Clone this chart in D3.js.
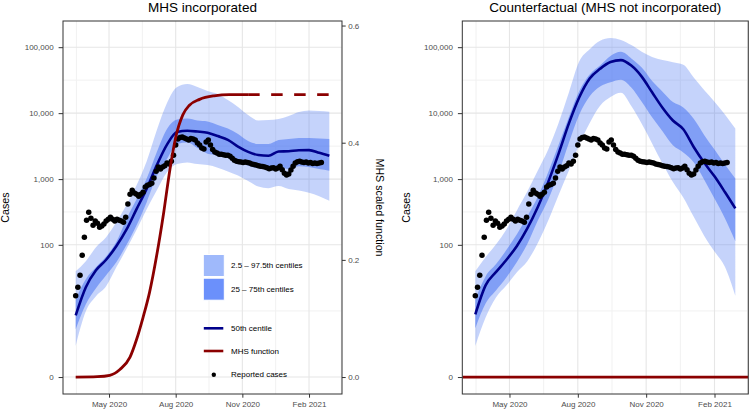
<!DOCTYPE html>
<html><head><meta charset="utf-8">
<script src="https://cdn.jsdelivr.net/npm/d3@7"></script>
<style>body{margin:0;background:#fff} svg{display:block;font-family:"Liberation Sans",Arial,Helvetica,sans-serif}</style>
</head><body><svg id="chart" width="750" height="410"></svg>
<script>
// ---------------- data ----------------
const bandDates = ["2020-03-16","2020-03-30","2020-04-13","2020-04-27","2020-05-11","2020-05-25","2020-06-08","2020-06-22","2020-07-06","2020-07-20","2020-08-03","2020-08-17","2020-08-31","2020-09-14","2020-09-28","2020-10-12","2020-10-26","2020-11-09","2020-11-23","2020-12-07","2020-12-21","2021-01-04","2021-01-18","2021-02-01","2021-02-15","2021-03-01"];

// MHS incorporated
const incMedian  = [7.6,22,40.5,59,95,170,350,714,1630,3340,5160,5400,5260,5040,4490,3930,3110,2590,2320,2260,2620,2650,2740,2750,2500,2250];
const incInnerLo = [4.3,11.7,21.2,34,54,99,199,447,1110,2010,3400,3580,2950,2430,2310,2120,1840,1600,1470,1490,1570,1420,1570,1520,1420,1340];
const incInnerHi = [14.1,29.4,45,66,110,246,496,1017,2570,5740,8000,8280,7720,7460,6600,5840,4820,3770,3400,3400,3910,4050,4190,4210,4120,4050];
const incOuterLo = [1.95,8.9,15.8,22.8,45,86,170,350,680,1275,1690,1790,1690,1630,1490,1300,1130,933,769,729,783,705,669,623,551,468];
const incOuterHi = [39,56,92,131,221,404,810,1870,5540,14200,24900,27600,24900,21700,19500,15800,12400,9350,7720,7860,8150,9050,10400,10950,10760,10500];

// Counterfactual (MHS not incorporated)
const cfMedian  = [7.9,23.7,38.2,59,96,178,374,892,2410,6990,17400,33500,47000,59600,63700,52600,35800,20700,12100,7740,5690,3070,1780,1100,636,359];
const cfInnerLo = [4.5,12.1,19.7,31.6,54.5,103,232,485,1220,3570,9580,18100,25400,29500,32200,24500,14900,8650,5310,3260,2540,1800,990,506,254,113];
const cfInnerHi = [14,32.8,50.5,84,145,272,535,1260,3290,8720,21700,38600,52700,73300,84900,67600,49000,30700,21200,14700,12200,8190,4670,2800,1670,1020];
const cfOuterLo = [1.95,7.05,15.2,23.6,37.8,56,106,233,571,1350,3370,7110,12990,17500,20300,12800,6880,3480,1720,900,524,267,138,79,46,16];
const cfOuterHi = [39,65,102,173,335,646,1340,2790,7010,20500,61100,93300,125000,138000,129000,108000,85400,71300,63700,59200,54100,34700,22400,14900,9550,5860];

// Reported cases (every 3rd day from start date)
const reportedStart = "2020-03-16";
const reportedStepDays = 3;
const reportedCases = [16,22,34,69,131,238,315,255,199,230,214,186,193,207,230,246,264,245,230,246,238,230,221,264,417,591,680,613,590,551,590,634,756,810,825,868,1035,1320,1520,1420,1520,1600,1750,1690,1870,2310,3280,4050,4270,4340,4190,4050,3910,4120,4050,3910,3520,3280,2950,2850,3640,3910,3280,2800,2570,2480,2390,2390,2350,2310,2310,2230,2080,1940,1870,1840,1810,1780,1810,1790,1750,1690,1660,1630,1600,1570,1550,1520,1490,1440,1470,1490,1420,1470,1570,1390,1230,1150,1190,1370,1570,1750,1840,1870,1810,1780,1810,1750,1780,1720,1750,1720,1750,1780];

// MHS scaled function
const mhsDates  = ["2020-03-16","2020-04-15","2020-05-02","2020-05-16","2020-05-30","2020-06-08","2020-06-17","2020-06-26","2020-07-06","2020-07-15","2020-07-24","2020-08-01","2020-08-11","2020-08-20","2020-09-03","2020-09-23","2020-10-14","2020-11-09"];
const mhsValues = [0,0.0007,0.003,0.013,0.034,0.064,0.102,0.145,0.209,0.277,0.354,0.409,0.448,0.464,0.474,0.480,0.482,0.482];
const mhsProjectedDates  = ["2020-11-09","2021-03-01"];
const mhsProjectedValues = [0.482,0.482];
const secAxisFactor = 8.88;   // secondary axis: log10(cases+1) = factor * MHS

// axes / labels
const yTickValues   = [0,100,1000,10000,100000];
const secTickValues = [0,0.2,0.4,0.6];
const xTickDates    = ["2020-05-01","2020-08-01","2020-11-01","2021-02-01"];
const xGridDates    = ["2020-02-01","2020-05-01","2020-08-01","2020-11-01","2021-02-01","2021-05-01"];
const panelTitles   = ["MHS incorporated","Counterfactual (MHS not incorporated)"];
const legendLabels  = ["2.5 \u2013 97.5th centiles","25 \u2013 75th centiles","50th centile","MHS function","Reported cases"];

// ---------------- drawing ----------------
const parse = d3.utcParse("%Y-%m-%d");
const svg = d3.select("#chart");
const tr = v => Math.log10(v + 1);
const yTop = 21, yBot = 394;

const C = {outer:"#3e6cf2", median:"#00008b", mhs:"#8b0000", grid:"#e6e6e6", gridMinor:"#f1f1f1",
           border:"#333333", tick:"#333333", tickText:"#4d4d4d", keyOuter:"#9fb9fb", keyInner:"#6b90fb"};

const allHi = incOuterHi.concat(cfOuterHi).map(tr);
const tMax = d3.max(allHi), tMin = 0;
const tPad = 0.05 * (tMax - tMin);
const yT = d3.scaleLinear().domain([tMin - tPad, tMax + tPad]).range([yBot, yTop]);

const bDates = bandDates.map(parse);
const start = parse(reportedStart);
const repData = reportedCases.map((v,i) => ({d: d3.utcDay.offset(start, i*reportedStepDays), v}));
const xExt = d3.extent(bDates);
const xPad = 0.05 * (xExt[1] - xExt[0]);
const xDomain = [new Date(+xExt[0] - xPad), new Date(+xExt[1] + xPad)];

const panels = [
  {x0:63, x1:342, title:panelTitles[0], med:incMedian, iLo:incInnerLo, iHi:incInnerHi, oLo:incOuterLo, oHi:incOuterHi, mhs:true, yTitleX:9},
  {x0:462.3, x1:748.3, title:panelTitles[1], med:cfMedian, iLo:cfInnerLo, iHi:cfInnerHi, oLo:cfOuterLo, oHi:cfOuterHi, mhs:false, yTitleX:409.5}
];

panels.forEach((p, pi) => {
  const x = d3.scaleUtc().domain(xDomain).range([p.x0, p.x1]);
  const g = svg.append("g");
  const clipId = "clip" + pi;
  svg.append("clipPath").attr("id", clipId).append("rect")
    .attr("x", p.x0).attr("y", yTop).attr("width", p.x1 - p.x0).attr("height", yBot - yTop);

  // grid
  const grid = g.append("g");
  const yMaj = yTickValues.map(tr);
  const yMin = d3.pairs(yMaj).map(([a,b]) => (a+b)/2);
  const xMaj = xGridDates.map(parse);
  const xMin = d3.pairs(xMaj).map(([a,b]) => new Date((+a + +b)/2));
  const inX = d => x(d) > p.x0 + 0.5 && x(d) < p.x1 - 0.5;
  grid.selectAll(".hmin").data(yMin).join("line").attr("x1", p.x0).attr("x2", p.x1)
    .attr("y1", d => yT(d)).attr("y2", d => yT(d)).attr("stroke", C.gridMinor).attr("stroke-width", 1);
  grid.selectAll(".vmin").data(xMin.filter(inX)).join("line").attr("y1", yTop).attr("y2", yBot)
    .attr("x1", d => x(d)).attr("x2", d => x(d)).attr("stroke", C.gridMinor).attr("stroke-width", 1);
  grid.selectAll(".hmaj").data(yMaj).join("line").attr("x1", p.x0).attr("x2", p.x1)
    .attr("y1", d => yT(d)).attr("y2", d => yT(d)).attr("stroke", C.grid).attr("stroke-width", 1.1);
  grid.selectAll(".vmaj").data(xMaj.filter(inX)).join("line").attr("y1", yTop).attr("y2", yBot)
    .attr("x1", d => x(d)).attr("x2", d => x(d)).attr("stroke", C.grid).attr("stroke-width", 1.1);

  const plot = g.append("g").attr("clip-path", `url(#${clipId})`);
  const bandRows = bDates.map((d,i) => ({d, med:p.med[i], iLo:p.iLo[i], iHi:p.iHi[i], oLo:p.oLo[i], oHi:p.oHi[i]}));
  const area = (lo, hi) => d3.area().x(r => x(r.d)).y0(r => yT(tr(r[lo]))).y1(r => yT(tr(r[hi]))).curve(d3.curveMonotoneX);
  plot.append("path").datum(bandRows).attr("d", area("oLo","oHi")).attr("fill", C.outer).attr("fill-opacity", 0.3);
  plot.append("path").datum(bandRows).attr("d", area("iLo","iHi")).attr("fill", C.outer).attr("fill-opacity", 0.5);
  plot.append("path").datum(bandRows)
    .attr("d", d3.line().x(r => x(r.d)).y(r => yT(tr(r.med))).curve(d3.curveMonotoneX))
    .attr("fill", "none").attr("stroke", C.median).attr("stroke-width", 2.6);

  plot.append("g").selectAll("circle").data(repData).join("circle")
    .attr("cx", r => x(r.d)).attr("cy", r => yT(tr(r.v))).attr("r", 2.75).attr("fill", "#000");

  const ySec = d3.scaleLinear().domain([0, 1]).range([yT(0), yT(secAxisFactor)]);
  if (p.mhs) {
    const mhsLine = d3.line().x(r => x(r.d)).y(r => ySec(r.v)).curve(d3.curveMonotoneX);
    plot.append("path").datum(mhsDates.map((d,i) => ({d:parse(d), v:mhsValues[i]})))
      .attr("d", mhsLine).attr("fill", "none").attr("stroke", C.mhs).attr("stroke-width", 2.8);
    plot.append("path").datum(mhsProjectedDates.map((d,i) => ({d:parse(d), v:mhsProjectedValues[i]})))
      .attr("d", mhsLine).attr("fill", "none").attr("stroke", C.mhs).attr("stroke-width", 2.8)
      .attr("stroke-dasharray", "11.5,11.5");
  } else {
    plot.append("line").attr("x1", p.x0).attr("x2", p.x1).attr("y1", ySec(0)).attr("y2", ySec(0))
      .attr("stroke", C.mhs).attr("stroke-width", 2.8);
  }

  // border
  g.append("rect").attr("x", p.x0).attr("y", yTop).attr("width", p.x1 - p.x0).attr("height", yBot - yTop)
    .attr("fill", "none").attr("stroke", C.border).attr("stroke-width", 1);

  const styleAxis = s => {
    s.select(".domain").remove();
    s.attr("font-family", null).attr("font-size", null);
    s.selectAll("line").attr("stroke", C.tick).attr("stroke-width", 1);
    s.selectAll("text").attr("fill", C.tickText).style("font-size", "8px");
  };
  g.append("g").attr("transform", `translate(0,${yBot})`)
    .call(d3.axisBottom(x).tickValues(xTickDates.map(parse)).tickFormat(d3.utcFormat("%b %Y")).tickSize(3.7).tickPadding(4))
    .call(styleAxis);
  g.append("g").attr("transform", `translate(${p.x0},0)`)
    .call(d3.axisLeft(yT).tickValues(yMaj).tickFormat(t => d3.format(",")(Math.round(Math.pow(10,t) - 1))).tickSize(4.4).tickPadding(5))
    .call(styleAxis);
  if (p.mhs) {
    g.append("g").attr("transform", `translate(${p.x1},0)`)
      .call(d3.axisRight(ySec).tickValues(secTickValues).tickFormat(d3.format(".1f")).tickSize(3.7).tickPadding(2.5))
      .call(styleAxis);
    g.append("text").attr("transform", `translate(375.5,${(yTop+yBot)/2}) rotate(90)`)
      .attr("text-anchor", "middle").style("font-size", "10.7px").attr("fill", "#000").text("MHS scaled function");
  }

  // titles
  g.append("text").attr("x", (p.x0 + p.x1)/2).attr("y", 11.5).attr("text-anchor", "middle")
    .style("font-size", "13.5px").attr("fill", "#000").text(p.title);
  g.append("text").attr("transform", `translate(${p.yTitleX},${(yTop+yBot)/2}) rotate(-90)`)
    .attr("text-anchor", "middle").style("font-size", "10.7px").attr("fill", "#000").text("Cases");

  // legend
  if (p.mhs) {
    const lg = g.append("g");
    const kx = 203.3, kw = 21, tx = 231;
    const rows = [
      {y:265.5, type:"rect", col:C.keyOuter},
      {y:289.2, type:"rect", col:C.keyInner},
      {y:328.3, type:"line", col:C.median},
      {y:351,   type:"line", col:C.mhs},
      {y:374.7, type:"dot",  col:"#000"}
    ];
    rows.forEach((r, i) => {
      if (r.type === "rect") lg.append("rect").attr("x", kx).attr("y", r.y - 11).attr("width", kw).attr("height", 22)
        .attr("fill", r.col).attr("stroke", "#fff").attr("stroke-width", 1);
      else if (r.type === "line") lg.append("line").attr("x1", kx + 0.5).attr("x2", kx + kw - 1).attr("y1", r.y).attr("y2", r.y)
        .attr("stroke", r.col).attr("stroke-width", 2.6);
      else lg.append("circle").attr("cx", kx + kw/2).attr("cy", r.y).attr("r", 2.2).attr("fill", r.col);
      lg.append("text").attr("x", tx).attr("y", r.y).attr("dy", "0.34em").style("font-size", "8px")
        .attr("fill", "#000").text(legendLabels[i]);
    });
  }
});
</script></body></html>
